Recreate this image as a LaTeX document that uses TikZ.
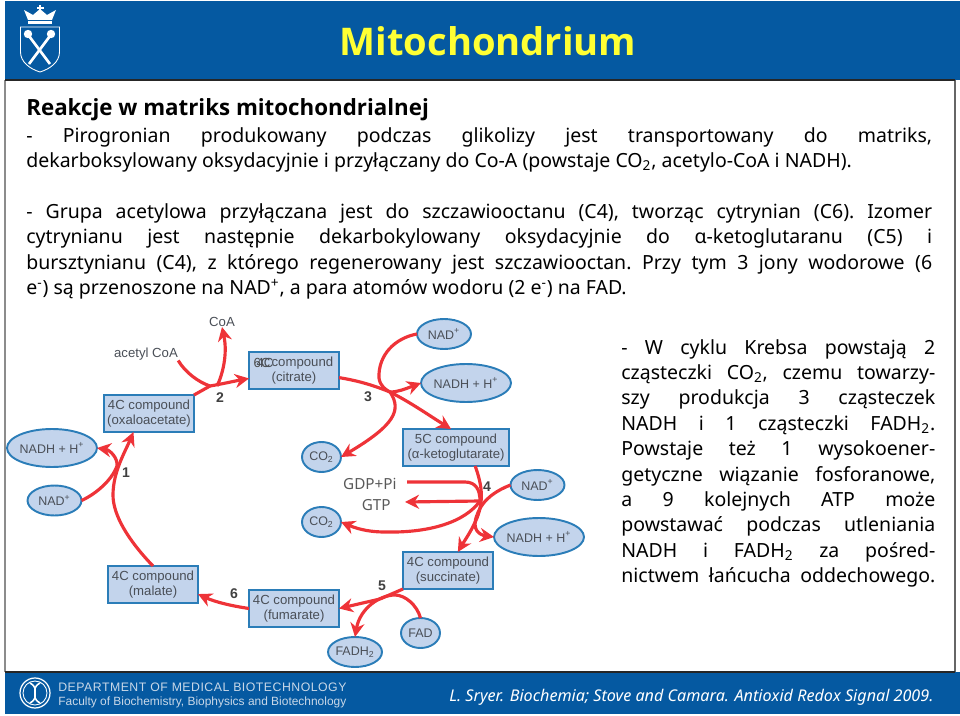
\documentclass[tikz,border=0pt]{standalone}
\usepackage{fontspec}
\setmainfont{Noto Sans}
\newfontfamily\headfont{Open Sans}
\newfontfamily\arialfont{Liberation Sans}
\usetikzlibrary{shapes.geometric, arrows.meta, positioning, calc}
\definecolor{uniblue}{HTML}{0559A1}
\definecolor{titleyellow}{HTML}{FFFF33}
\definecolor{cyclered}{HTML}{EE3338}
\definecolor{cmpfill}{HTML}{C3D4EC}
\definecolor{cmpline}{HTML}{2B7DB8}
\definecolor{cmptext}{HTML}{4A4F57}
\definecolor{footgray}{HTML}{C9D8E8}
\newcommand{\bodyfont}{\fontsize{11.1}{14.45}\selectfont\frenchspacing}
\newcommand{\oc}[1]{\makebox[0pt]{#1}}
\begin{document}
\begin{tikzpicture}[x=0.02cm, y=-0.02cm,
    cmp/.style={draw=cmpline, line width=1.1pt, fill=cmpfill, text=cmptext, font=\arialfont\fontsize{7.5}{9}\selectfont, minimum width=1.8cm, minimum height=0.74cm, inner sep=0pt, outer sep=0pt, align=center},
    oval/.style={ellipse, draw=cmpline, line width=1.1pt, fill=cmpfill, text=cmptext, font=\arialfont\fontsize{7.1}{9}\selectfont, inner sep=0pt, outer sep=0pt},
    ovalL/.style={oval, minimum width=1.8cm, minimum height=0.76cm},
    ovalM/.style={oval, minimum width=1.08cm, minimum height=0.6cm},
    ovalS/.style={oval, minimum width=0.78cm, minimum height=0.6cm},
    lbl/.style={text=cmptext, font=\arialfont\fontsize{7.5}{9}\selectfont, inner sep=0pt},
    num/.style={text=black!75, font=\arialfont\bfseries\fontsize{8}{10}\selectfont, inner sep=0pt},
    gdp/.style={text=black!65, font=\fontsize{8.7}{10}\selectfont, inner sep=0pt},
    arr/.style={-{Stealth[length=8pt, width=8pt]}, line width=1.8pt, draw=cyclered},
    crv/.style={line width=1.8pt, draw=cyclered},
    txt/.style={text=black, font=\bodyfont, inner sep=0pt, align=justify},
    logo/.style={draw=white, line width=0.5pt},
]
    \useasboundingbox (0,0) rectangle (960,716);

    % slide frame
    \draw[black!45, line width=1pt] (5,80) -- (5,672);
    \draw[black!60, line width=0.8pt] (955,80) -- (955,672);
    \fill[uniblue] (5,1) rectangle (960,80);
    \fill[uniblue] (5,672) rectangle (960,714);
    \draw[black!85, line width=0.8pt] (5,80) -- (955,80);
    \draw[black!85, line width=0.8pt] (5,672) -- (955,672);

    % crown and shield
    \fill[white] (24,10) -- (33,15) -- (40,9) -- (47,15) -- (56,10) -- (52,20) -- (28,20) -- cycle;
    \fill[white] (38.8,5) rectangle (41.2,12);
    \fill[white] (36.5,7) rectangle (43.5,9);
    \fill[white] (28,21) rectangle (52,24);
    \draw[logo] (20.5,27) -- (59.5,27) -- (59.5,52) .. controls (59.5,62) and (50,69) .. (40,72) .. controls (30,69) and (20.5,62) .. (20.5,52) -- cycle;
    \draw[white, line width=1.5pt] (29,64) -- (50,36);
    \draw[white, line width=1.5pt] (50,64) -- (29,36);
    \fill[white] (51,34) circle (4.2);
    \fill[white] (28,34) circle (4.2);

    % dna badge
    \draw[logo, line width=0.7pt] (35,693) circle (15);
    \draw[logo] (35,693) circle (12);
    \draw[logo, line width=0.9pt] (30,683) .. controls (42,690) and (28,696) .. (40,703);
    \draw[logo, line width=0.9pt] (40,683) .. controls (28,690) and (42,696) .. (30,703);

    \node[text=titleyellow, font=\headfont\bfseries\fontsize{21.7}{26}\selectfont, inner sep=0pt] (title) at (488,41) {Mitochondrium};
    \node[anchor=west, text=footgray, font=\arialfont\fontsize{7}{10}\selectfont, inner sep=0pt] (dept) at (58,687) {\addfontfeature{LetterSpace=4}DEPARTMENT OF MEDICAL BIOTECHNOLOGY};
    \node[anchor=west, text=footgray, font=\arialfont\fontsize{6.8}{10}\selectfont, inner sep=0pt] (fac) at (58,702) {Faculty of Biochemistry, Biophysics and Biotechnology};
    \node[anchor=west, text=white, font=\itshape\fontsize{9.2}{11}\selectfont, inner sep=0pt] (cite) at (449,697) {L. Sryer. Biochemia; Stove and Camara. Antioxid Redox Signal 2009.};

    \node[anchor=west, text=black, font=\headfont\bfseries\fontsize{12.7}{14}\selectfont, inner sep=0pt] (head) at (26,110) {Reakcje w matriks mitochondrialnej};
    \node[txt, anchor=north west, text width=18.12cm] (body) at (26,127) {%
        - Pirogronian produkowany podczas glikolizy jest transportowany do matriks,\linebreak
        dekarboksylowany oksydacyjnie i przyłączany do Co-A (powstaje CO\textsubscript{2}, acetylo-CoA i NADH).\\[14.45pt]
        - Grupa acetylowa przyłączana jest do szczawiooctanu (C4), tworząc cytrynian (C6). Izomer\linebreak
        cytrynianu jest następnie dekarbokylowany oksydacyjnie do α-ketoglutaranu (C5) i\linebreak
        bursztynianu (C4), z którego regenerowany jest szczawiooctan. Przy tym 3 jony wodorowe (6\linebreak
        e\textsuperscript{-}) są przenoszone na NAD\textsuperscript{+}, a para atomów wodoru (2 e\textsuperscript{-}) na FAD.};
    \node[txt, anchor=north west, text width=6.28cm] (side) at (621,339) {%
        - W cyklu Krebsa powstają 2\linebreak
        cząsteczki CO\textsubscript{2}, czemu towarzy-\linebreak
        szy produkcja 3 cząsteczek\linebreak
        NADH i 1 cząsteczki FADH\textsubscript{2}.\linebreak
        Powstaje też 1 wysokoener-\linebreak
        getyczne wiązanie fosforanowe,\linebreak
        a 9 kolejnych ATP może\linebreak
        powstawać podczas utleniania\linebreak
        NADH i FADH\textsubscript{2} za pośred-\linebreak
        nictwem łańcucha oddechowego.{\parfillskip=0pt\par}};

    \node[cmp] (oxa) at (149,413.5) {4C compound\\(oxaloacetate)};
    \node[cmp] (cit) at (294,370.5) {\phantom{6C}compound\\(citrate)};
    \node[lbl, text=black!70] (six) at (262,363) {6C};
    \node[lbl] (four) at (265,363) {4C};
    \node[cmp, minimum width=2.12cm] (keto) at (456,447.5) {5C compound\\(α-ketoglutarate)};
    \node[cmp] (suc) at (448,570.5) {4C compound\\(succinate)};
    \node[cmp] (fum) at (294,608.5) {4C compound\\(fumarate)};
    \node[cmp] (mal) at (153,584.5) {4C compound\\(malate)};

    \node[ovalL] (nadhA) at (52,448) {\oc{NADH + H\textsuperscript{+}}};
    \node[ovalM] (nadA) at (54.5,500.5) {\oc{NAD\textsuperscript{+}}};
    \node[ovalM] (nadB) at (444,334) {\oc{NAD\textsuperscript{+}}};
    \node[ovalL] (nadhB) at (466,383) {\oc{NADH + H\textsuperscript{+}}};
    \node[ovalM] (nadC) at (537.5,485) {\oc{NAD\textsuperscript{+}}};
    \node[ovalL] (nadhC) at (539,537) {\oc{NADH + H\textsuperscript{+}}};
    \node[ovalS] (coA) at (321.5,457) {\oc{CO\textsubscript{2}}};
    \node[ovalS] (coB) at (321.5,522) {\oc{CO\textsubscript{2}}};
    \node[ovalS] (fad) at (420.5,633) {\oc{FAD}};
    \node[ovalM] (fadh) at (355,652) {\oc{FADH\textsubscript{2}}};

    \node[lbl] (coa) at (222,322) {CoA};
    \node[lbl] (acc) at (146,354) {acetyl CoA};
    \node[gdp, anchor=east] (gdpi) at (397,484) {GDP+Pi};
    \node[gdp, anchor=east] (gtp) at (391,505) {GTP};

    \node[num] (n1) at (126,473) {1};
    \node[num] (n2) at (220,398) {2};
    \node[num] (n3) at (368,397) {3};
    \node[num] (n4) at (487,487) {4};
    \node[num] (n5) at (382,586) {5};
    \node[num] (n6) at (234,594) {6};

    \coordinate (jA) at (210,386);
    \coordinate (jB) at (390,392);
    \coordinate (jC) at (480,501);
    \coordinate (jD) at (380,599);
    \coordinate (gdpS) at (407,482);
    \coordinate (gtpS) at (405,502);

    \draw[arr] (mal.north) .. controls (128,540) and (113,515) .. (113,495) .. controls (113,472) and (125,452) .. (oxa.-130);
    \draw[arr] (nadA.east) .. controls (96,494) and (112,480) .. (117,466) .. controls (118,458) and (110,450) .. (nadhA.east);

    \draw[crv] (oxa.north east) -- (jA);
    \draw[arr] (jA) .. controls (222,384) and (235,381) .. (cit.190);
    \draw[crv] (acc.south east) .. controls (185,372) and (198,382) .. (jA);
    \draw[arr] ($(jA)+(7,0)$) .. controls (222,376) and (228,355) .. (coa.south);

    \draw[crv] (cit.-9) .. controls (360,381) and (375,386) .. (jB);
    \draw[arr] (jB) .. controls (410,402) and (430,416) .. (keto.105);
    \draw[crv] (nadB.west) .. controls (395,338) and (378,355) .. (379,378) .. controls (380,386) and (386,390) .. (jB);
    \draw[arr] (jB) .. controls (398,392) and (405,389) .. (nadhB.west);
    \draw[arr] (jB) .. controls (402,410) and (395,425) .. (coA.east);

    \draw[arr] (keto.-44) .. controls (482,485) and (484,500) .. (477,518) .. controls (472,530) and (465,540) .. (suc.62);
    \draw[crv] (nadC.west) .. controls (498,490) and (483,498) .. (477,515);
    \draw[arr] (477,515) .. controls (471,530) and (480,535) .. (nadhC.west);
    \draw[crv] (gdpS) -- (465,482) .. controls (476,482) and (480,490) .. (jC);
    \draw[arr] (jC) -- (gtpS);
    \draw[arr] (jC) .. controls (465,522) and (430,533) .. (385,532) .. controls (372,532) and (360,530) .. (coB.east);

    \draw[crv] (suc.south west) -- (jD);
    \draw[arr] (jD) -- (fum.east);
    \draw[arr] (fad.north) .. controls (417,605) and (405,595) .. (395,595) .. controls (380,595) and (360,608) .. (fadh.north);

    \draw[arr] (fum.west) .. controls (232,606) and (215,602) .. (mal.-12);
\end{tikzpicture}
\end{document}
